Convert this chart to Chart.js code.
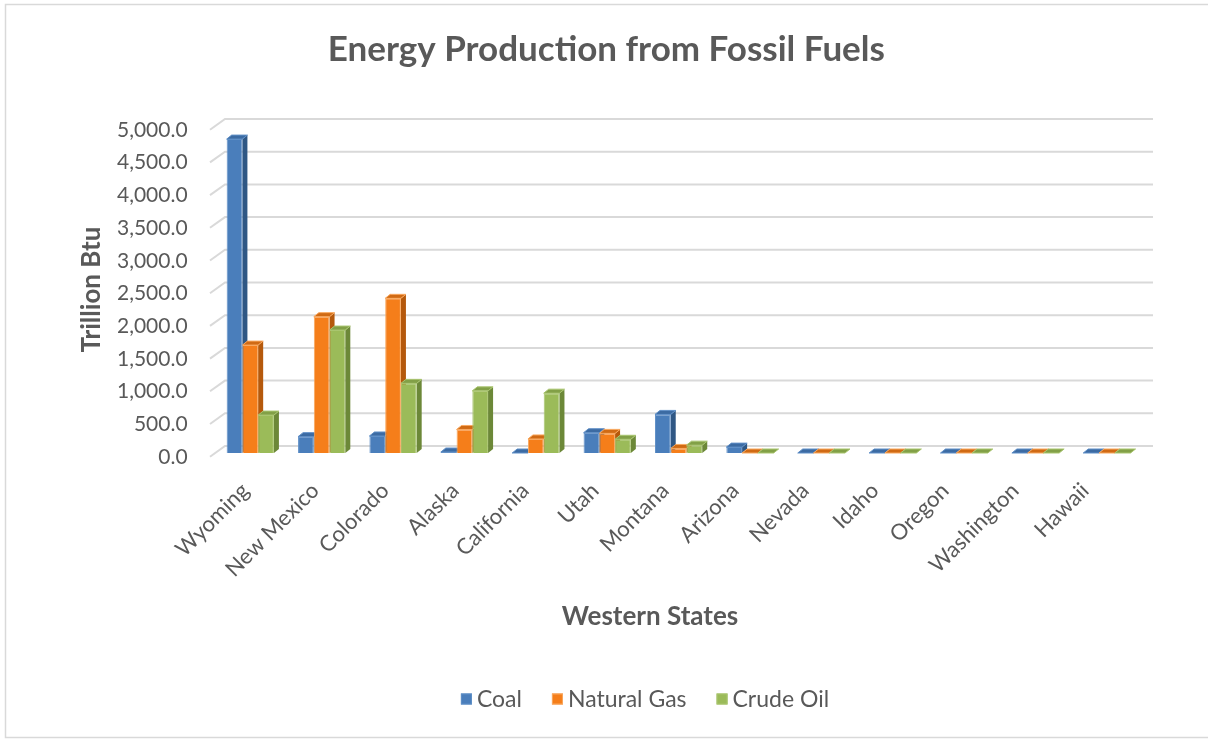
<!DOCTYPE html>
<html>
<head>
<meta charset="utf-8">
<title>Energy Production from Fossil Fuels</title>
<script src="https://cdn.jsdelivr.net/npm/chart.js@4/dist/chart.umd.min.js"></script>
<style>
  html, body { margin: 0; padding: 0; background: #ffffff; }
  #wrap { width: 1208px; height: 740px; position: relative; }
</style>
</head>
<body>
<div id="wrap"><canvas id="chart" width="1208" height="740"></canvas></div>
<script>
// Western states, trillion Btu produced from each fossil fuel
const categories = ['Wyoming', 'New Mexico', 'Colorado', 'Alaska', 'California', 'Utah',
                    'Montana', 'Arizona', 'Nevada', 'Idaho', 'Oregon', 'Washington', 'Hawaii'];
const coal       = [4800, 250, 260, 15, 0, 310, 590, 90, 0, 0, 0, 0, 0];
const naturalGas = [1650, 2085, 2365, 360, 215, 300, 70, 0, 0, 0, 0, 0, 0];
const crudeOil   = [580, 1880, 1065, 950, 915, 210, 120, 0, 0, 0, 0, 0, 0];
const yTickValues = [0, 500, 1000, 1500, 2000, 2500, 3000, 3500, 4000, 4500, 5000];
const xAxisTitle = 'Western States';

const TEXT = '#595959';
const FONT = 'Lato, "Open Sans", sans-serif';

// colours: front face, front outline, side face, top face
const palette = {
  coal:  { front: '#4A7EBB', edge: '#5F8FC7', side: '#2F5784', top: '#3C6BA3' },
  gas:   { front: '#F57E1A', edge: '#F9A85E', side: '#B5590C', top: '#D06A14' },
  oil:   { front: '#9BBB59', edge: '#A9C56F', side: '#6C8838', top: '#82A047' }
};

// faux-3D: depth of each column and the back wall offset
const BAR_DEPTH = { dx: 5, dy: -4 };
const WALL_BACK = { dx: 10.4, dy: -7 };
const WALL_FRONT = { dx: -4.6, dy: 3.7 };
// category labels sit on the nearer (slightly narrower) front edge of the floor
const FRONT_EDGE = { scale: 70 / 71.4, dx: -5, y: 487, size: 22 };

const depthPlugin = {
  id: 'depth3d',
  beforeDraw(chart) {
    const ctx = chart.ctx;
    ctx.save();
    ctx.fillStyle = '#ffffff';
    ctx.fillRect(0, 0, chart.width, chart.height);
    ctx.strokeStyle = '#D9D9D9';
    ctx.lineWidth = 1.5;
    ctx.strokeRect(5.5, 4.5, chart.width + 20, chart.height - 7);
    ctx.restore();
  },
  beforeDatasetsDraw(chart) {
    const ctx = chart.ctx;
    const yScale = chart.scales.y;
    const area = chart.chartArea;
    ctx.save();
    // gridlines on the back wall with the slanted side-wall edge
    ctx.strokeStyle = '#D9D9D9';
    ctx.lineWidth = 2;
    yTickValues.forEach(v => {
      const py = yScale.getPixelForValue(v);
      ctx.beginPath();
      ctx.moveTo(area.left + WALL_FRONT.dx, py + WALL_FRONT.dy);
      ctx.lineTo(area.left + WALL_BACK.dx, py + WALL_BACK.dy);
      ctx.lineTo(area.right + WALL_BACK.dx, py + WALL_BACK.dy);
      ctx.stroke();
    });
    // side and top faces of every column, series by series
    chart.data.datasets.forEach((ds, i) => {
      const meta = chart.getDatasetMeta(i);
      if (meta.hidden) return;
      meta.data.forEach(bar => {
        const p = bar.getProps(['x', 'y', 'base', 'width'], true);
        const x0 = p.x - p.width / 2, x1 = p.x + p.width / 2;
        const top = Math.min(p.y, p.base), base = p.base;
        // side
        ctx.fillStyle = ds.sideColor;
        ctx.beginPath();
        ctx.moveTo(x1, top);
        ctx.lineTo(x1 + BAR_DEPTH.dx, top + BAR_DEPTH.dy);
        ctx.lineTo(x1 + BAR_DEPTH.dx, base + BAR_DEPTH.dy);
        ctx.lineTo(x1, base);
        ctx.closePath();
        ctx.fill();
        // top
        ctx.fillStyle = ds.topColor;
        ctx.strokeStyle = ds.borderColor;
        ctx.lineWidth = 1;
        ctx.beginPath();
        ctx.moveTo(x0, top);
        ctx.lineTo(x1, top);
        ctx.lineTo(x1 + BAR_DEPTH.dx, top + BAR_DEPTH.dy);
        ctx.lineTo(x0 + BAR_DEPTH.dx, top + BAR_DEPTH.dy);
        ctx.closePath();
        ctx.fill();
        ctx.stroke();
      });
    });
    ctx.restore();
  }
};

// category labels, horizontal axis title and the series key
const AXIS_TITLE = { x: 650, y: 617, size: 26 };
const LEGEND = { centerX: 645, y: 699, box: 11, gap: 5, spacing: 30, size: 23 };
const annotationPlugin = {
  id: 'bottomText',
  afterDraw(chart) {
    const ctx = chart.ctx;
    const xScale = chart.scales.x;
    ctx.save();
    ctx.fillStyle = TEXT;

    // rotated category names
    ctx.font = FRONT_EDGE.size + 'px ' + FONT;
    ctx.textAlign = 'right';
    ctx.textBaseline = 'middle';
    const p0 = xScale.getPixelForTick(0);
    chart.data.labels.forEach((label, i) => {
      const px = xScale.getPixelForTick(i);
      const x = p0 + (px - p0) * FRONT_EDGE.scale + FRONT_EDGE.dx;
      ctx.save();
      ctx.translate(x, FRONT_EDGE.y);
      ctx.rotate(-Math.PI / 4);
      ctx.fillText(label, 0, 0);
      ctx.restore();
    });

    ctx.textAlign = 'center';
    ctx.font = 'bold ' + AXIS_TITLE.size + 'px ' + FONT;
    ctx.fillText(xAxisTitle, AXIS_TITLE.x, AXIS_TITLE.y);

    ctx.font = LEGEND.size + 'px ' + FONT;
    ctx.textAlign = 'left';
    const items = chart.data.datasets.map(ds => ({
      ds, w: LEGEND.box + LEGEND.gap + ctx.measureText(ds.label).width
    }));
    const total = items.reduce((s, it) => s + it.w, 0) + LEGEND.spacing * (items.length - 1);
    let x = LEGEND.centerX - total / 2;
    items.forEach(it => {
      ctx.fillStyle = it.ds.backgroundColor;
      ctx.fillRect(x, LEGEND.y - LEGEND.box / 2, LEGEND.box, LEGEND.box);
      ctx.strokeStyle = it.ds.borderColor;
      ctx.lineWidth = 1;
      ctx.strokeRect(x + 0.5, LEGEND.y - LEGEND.box / 2 + 0.5, LEGEND.box - 1, LEGEND.box - 1);
      ctx.fillStyle = TEXT;
      ctx.fillText(it.ds.label, x + LEGEND.box + LEGEND.gap, LEGEND.y + 1);
      x += it.w + LEGEND.spacing;
    });
    ctx.restore();
  }
};

function series(label, data, c) {
  return {
    label, data,
    backgroundColor: c.front,
    borderColor: c.edge,
    borderWidth: 1,
    sideColor: c.side,
    topColor: c.top,
    categoryPercentage: 0.662,
    barPercentage: 1.0
  };
}

new Chart(document.getElementById('chart'), {
  type: 'bar',
  data: {
    labels: categories,
    datasets: [
      series('Coal', coal, palette.coal),
      series('Natural Gas', naturalGas, palette.gas),
      series('Crude Oil', crudeOil, palette.oil)
    ]
  },
  plugins: [depthPlugin, annotationPlugin],
  options: {
    responsive: false,
    devicePixelRatio: 1,
    animation: false,
    layout: { padding: { left: 70, right: 65.4, top: 10, bottom: 60 } },
    plugins: {
      title: {
        display: true,
        text: 'Energy Production from Fossil Fuels',
        color: TEXT,
        font: { family: FONT, size: 35, weight: 'bold', lineHeight: 1.2 },
        padding: { top: 19, bottom: 55 }
      },
      legend: { display: false },
      tooltip: { enabled: false }
    },
    scales: {
      x: {
        grid: { display: false, drawTicks: false },
        border: { display: false },
        ticks: { display: false, autoSkip: false },
        afterFit(scale) { scale.height = 227; }
      },
      y: {
        min: 0, max: 5000,
        grid: { display: false, drawTicks: false },
        border: { display: false },
        afterBuildTicks(scale) { scale.ticks = yTickValues.map(v => ({ value: v })); },
        ticks: {
          color: TEXT,
          font: { family: FONT, size: 21 },
          padding: 27,
          labelOffset: 4,
          callback: v => Number(v).toLocaleString('en-US', { minimumFractionDigits: 1, maximumFractionDigits: 1 })
        },
        title: {
          display: true,
          text: 'Trillion Btu',
          color: TEXT,
          font: { family: FONT, size: 26, weight: 'bold', lineHeight: 1.2 },
          padding: { top: 6, bottom: 0 }
        },
        afterFit(scale) { scale.width = 144.6; }
      }
    }
  }
});
</script>
</body>
</html>
